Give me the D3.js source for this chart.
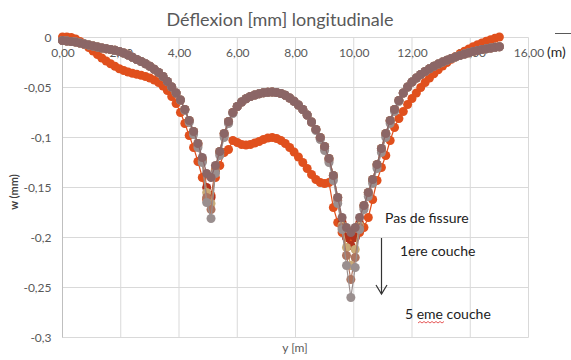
<!DOCTYPE html>
<html>
<head>
<meta charset="utf-8">
<script src="https://cdn.jsdelivr.net/npm/d3@7"></script>
<style>
  body { margin: 0; background: #fff; }
  svg { display: block; font-family: Lato, "Open Sans", sans-serif; }
</style>
</head>
<body>
<svg id="chart" width="571" height="360"></svg>
<script>
// position along the beam (m)
const xs = [0,0.15,0.3,0.45,0.6,0.75,0.9,1.05,1.2,1.35,1.5,1.65,1.8,1.95,2.1,2.25,2.4,2.55,2.7,2.85,
  3,3.15,3.3,3.45,3.6,3.75,3.9,4.05,4.2,4.35,4.5,4.65,4.8,4.95,5.1,5.25,5.4,5.55,5.7,5.85,
  6,6.15,6.3,6.45,6.6,6.75,6.9,7.05,7.2,7.35,7.5,7.65,7.8,7.95,8.1,8.25,8.4,8.55,8.7,8.85,
  9,9.15,9.3,9.45,9.6,9.75,9.9,10.05,10.2,10.35,10.5,10.65,10.8,10.95,11.1,11.25,11.4,11.55,11.7,11.85,
  12,12.15,12.3,12.45,12.6,12.75,12.9,13.05,13.2,13.35,13.5,13.65,13.8,13.95,14.1,14.25,14.4,14.55,14.7,14.85,15];

// deflection w (mm)
const pasFissure = [0.0005,0.0005,0,-0.0015,-0.004,-0.007,-0.01,-0.0135,-0.017,-0.0205,
  -0.0235,-0.0262,-0.0288,-0.0312,-0.033,-0.0345,-0.0358,-0.0368,-0.0378,-0.039,
  -0.0405,-0.0425,-0.045,-0.0485,-0.053,-0.059,-0.066,-0.075,-0.086,-0.098,
  -0.11,-0.124,-0.14,-0.162,-0.158,-0.14,-0.128,-0.115,-0.112,-0.103,
  -0.105,-0.107,-0.1075,-0.107,-0.1055,-0.104,-0.102,-0.1005,-0.1,-0.101,
  -0.103,-0.106,-0.11,-0.1145,-0.1195,-0.125,-0.131,-0.137,-0.142,-0.145,
  -0.146,-0.145,-0.17,-0.185,-0.195,-0.2,-0.202,-0.2,-0.195,-0.19,
  -0.18,-0.162,-0.143,-0.13,-0.118,-0.103,-0.09,-0.081,-0.074,-0.067,
  -0.061,-0.0555,-0.05,-0.045,-0.0405,-0.0362,-0.0322,-0.0285,-0.025,-0.0218,
  -0.019,-0.0163,-0.0138,-0.0115,-0.0093,-0.0073,-0.0055,-0.0038,-0.0022,-0.0008,0.0005];

const couche1 = [-0.003,-0.0035,-0.004,-0.0045,-0.0055,-0.0065,-0.0075,-0.0085,-0.0095,-0.0105,
  -0.0112,-0.012,-0.0128,-0.014,-0.0155,-0.0175,-0.0198,-0.022,-0.024,-0.0262,
  -0.0288,-0.0318,-0.035,-0.039,-0.044,-0.0495,-0.0555,-0.0625,-0.072,-0.083,
  -0.094,-0.106,-0.12,-0.136,-0.14,-0.128,-0.114,-0.096,-0.084,-0.075,
  -0.069,-0.0645,-0.0612,-0.059,-0.0575,-0.0562,-0.0553,-0.0548,-0.0546,-0.055,
  -0.056,-0.0578,-0.0605,-0.0638,-0.0675,-0.072,-0.0775,-0.0845,-0.092,-0.1,
  -0.109,-0.121,-0.138,-0.16,-0.18,-0.19,-0.195,-0.19,-0.18,-0.168,
  -0.155,-0.142,-0.127,-0.111,-0.096,-0.083,-0.072,-0.063,-0.0555,-0.0495,
  -0.0445,-0.0405,-0.037,-0.034,-0.0312,-0.0288,-0.0266,-0.0246,-0.0228,-0.021,
  -0.0194,-0.0179,-0.0165,-0.0152,-0.014,-0.013,-0.012,-0.0112,-0.0105,-0.0098,-0.0093];

const couche2 = [-0.003,-0.0035,-0.004,-0.0045,-0.0055,-0.0065,-0.0075,-0.0085,-0.0095,-0.0105,
  -0.0112,-0.012,-0.0128,-0.014,-0.0155,-0.0175,-0.0198,-0.022,-0.024,-0.0262,
  -0.0288,-0.0318,-0.035,-0.039,-0.044,-0.0495,-0.0555,-0.0625,-0.072,-0.083,
  -0.094,-0.106,-0.122,-0.15,-0.16,-0.132,-0.114,-0.096,-0.084,-0.075,
  -0.069,-0.0645,-0.0612,-0.059,-0.0575,-0.0562,-0.0553,-0.0548,-0.0546,-0.055,
  -0.056,-0.0578,-0.0605,-0.0638,-0.0675,-0.072,-0.0775,-0.0845,-0.092,-0.1,
  -0.109,-0.121,-0.138,-0.16,-0.185,-0.2,-0.208,-0.2,-0.186,-0.168,
  -0.155,-0.142,-0.127,-0.111,-0.096,-0.083,-0.072,-0.063,-0.0555,-0.0495,
  -0.0445,-0.0405,-0.037,-0.034,-0.0312,-0.0288,-0.0266,-0.0246,-0.0228,-0.021,
  -0.0194,-0.0179,-0.0165,-0.0152,-0.014,-0.013,-0.012,-0.0112,-0.0105,-0.0098,-0.0093];

const couche3 = [-0.003,-0.0035,-0.004,-0.0045,-0.0055,-0.0065,-0.0075,-0.0085,-0.0095,-0.0105,
  -0.0112,-0.012,-0.0128,-0.014,-0.0155,-0.0175,-0.0198,-0.022,-0.024,-0.0262,
  -0.0288,-0.0318,-0.035,-0.039,-0.044,-0.0495,-0.0555,-0.0625,-0.072,-0.083,
  -0.094,-0.106,-0.123,-0.155,-0.166,-0.133,-0.114,-0.096,-0.084,-0.075,
  -0.069,-0.0645,-0.0612,-0.059,-0.0575,-0.0562,-0.0553,-0.0548,-0.0546,-0.055,
  -0.056,-0.0578,-0.0605,-0.0638,-0.0675,-0.072,-0.0775,-0.0845,-0.092,-0.1,
  -0.109,-0.121,-0.138,-0.16,-0.188,-0.21,-0.228,-0.212,-0.188,-0.168,
  -0.155,-0.142,-0.127,-0.111,-0.096,-0.083,-0.072,-0.063,-0.0555,-0.0495,
  -0.0445,-0.0405,-0.037,-0.034,-0.0312,-0.0288,-0.0266,-0.0246,-0.0228,-0.021,
  -0.0194,-0.0179,-0.0165,-0.0152,-0.014,-0.013,-0.012,-0.0112,-0.0105,-0.0098,-0.0093];

const couche4 = [-0.003,-0.0035,-0.004,-0.0045,-0.0055,-0.0065,-0.0075,-0.0085,-0.0095,-0.0105,
  -0.0112,-0.012,-0.0128,-0.014,-0.0155,-0.0175,-0.0198,-0.022,-0.024,-0.0262,
  -0.0288,-0.0318,-0.035,-0.039,-0.044,-0.0495,-0.0555,-0.0625,-0.072,-0.084,
  -0.095,-0.108,-0.124,-0.16,-0.172,-0.134,-0.116,-0.098,-0.085,-0.075,
  -0.069,-0.0645,-0.0612,-0.059,-0.0575,-0.0562,-0.0553,-0.0548,-0.0546,-0.055,
  -0.056,-0.0578,-0.0605,-0.0638,-0.0675,-0.072,-0.0775,-0.0845,-0.092,-0.101,
  -0.111,-0.123,-0.14,-0.163,-0.19,-0.218,-0.242,-0.22,-0.19,-0.17,
  -0.157,-0.144,-0.129,-0.113,-0.098,-0.084,-0.072,-0.063,-0.0555,-0.0495,
  -0.0445,-0.0405,-0.037,-0.034,-0.0312,-0.0288,-0.0266,-0.0246,-0.0228,-0.021,
  -0.0194,-0.0179,-0.0165,-0.0152,-0.014,-0.013,-0.012,-0.0112,-0.0105,-0.0098,-0.0093];

const couche5 = [-0.003,-0.0035,-0.004,-0.0045,-0.0055,-0.0065,-0.0075,-0.0085,-0.0095,-0.0105,
  -0.0112,-0.012,-0.0128,-0.014,-0.0155,-0.0175,-0.0198,-0.022,-0.024,-0.0262,
  -0.0288,-0.0318,-0.035,-0.039,-0.044,-0.0495,-0.0555,-0.0625,-0.073,-0.085,
  -0.097,-0.11,-0.125,-0.165,-0.181,-0.136,-0.118,-0.1,-0.086,-0.076,
  -0.069,-0.0645,-0.0612,-0.059,-0.0575,-0.0562,-0.0553,-0.0548,-0.0546,-0.055,
  -0.056,-0.0578,-0.0605,-0.0638,-0.0675,-0.072,-0.0775,-0.0845,-0.093,-0.102,
  -0.113,-0.125,-0.143,-0.166,-0.192,-0.228,-0.26,-0.23,-0.192,-0.172,
  -0.159,-0.146,-0.131,-0.115,-0.1,-0.086,-0.074,-0.064,-0.0555,-0.0495,
  -0.0445,-0.0405,-0.037,-0.034,-0.0312,-0.0288,-0.0266,-0.0246,-0.0228,-0.021,
  -0.0194,-0.0179,-0.0165,-0.0152,-0.014,-0.013,-0.012,-0.0112,-0.0105,-0.0098,-0.0093];

const xTicks = [0, 2, 4, 6, 8, 10, 12, 14, 16];
const yTicks = [0, -0.05, -0.1, -0.15, -0.2, -0.25, -0.3];

// drawing order: first is at the back
const series = [
  {values: pasFissure, color: '#e0501d'},
  {values: couche2, color: '#b3321c'},
  {values: couche3, color: '#c9aa76'},
  {values: couche4, color: '#ad7560'},
  {values: couche5, color: '#9a8f8f'},
  {values: couche1, color: '#8b6666'}
];

const fr = d3.formatLocale({decimal: ',', thousands: ' ', grouping: [3], currency: ['', ' €'], minus: '-'});

const svg = d3.select('#chart');
const x = d3.scaleLinear().domain([0, 16]).range([62.5, 528.5]);
const y = d3.scaleLinear().domain([0, -0.3]).range([37.5, 337.5]);

// grid
svg.append('g').selectAll('line').data(xTicks).join('line')
  .attr('x1', d => x(d)).attr('x2', d => x(d))
  .attr('y1', y(0)).attr('y2', y(-0.3))
  .attr('stroke', '#d9d9d9');
svg.append('g').selectAll('line').data(yTicks).join('line')
  .attr('x1', x(0)).attr('x2', x(16))
  .attr('y1', d => y(d)).attr('y2', d => y(d))
  .attr('stroke', '#d9d9d9');
svg.append('line')
  .attr('x1', x(0)).attr('x2', x(0)).attr('y1', y(0)).attr('y2', y(-0.3))
  .attr('stroke', '#bfbfbf');

// axes labels
const xAxis = svg.append('g')
  .attr('transform', `translate(0,${y(0)})`)
  .call(d3.axisBottom(x).tickValues(xTicks).tickSize(0).tickPadding(11).tickFormat(fr.format('.2f')));
const yAxis = svg.append('g')
  .attr('transform', `translate(${x(0)},0)`)
  .call(d3.axisLeft(y).tickValues(yTicks).tickSize(0).tickPadding(11).tickFormat(fr.format('~g')));
[xAxis, yAxis].forEach(g => {
  g.select('.domain').remove();
  g.selectAll('text').attr('fill', '#595959').style('font-size', '12px').style('font-family', 'Lato, sans-serif');
});

// curves
const line = d3.line().x((d, i) => x(xs[i])).y(d => y(d));
series.forEach(s => {
  const g = svg.append('g');
  g.append('path').datum(s.values)
    .attr('d', line).attr('fill', 'none')
    .attr('stroke', s.color).attr('stroke-width', 1.2);
  g.selectAll('circle').data(s.values).join('circle')
    .attr('cx', (d, i) => x(xs[i])).attr('cy', d => y(d))
    .attr('r', 4.5).attr('fill', s.color);
});

// titles
svg.append('text').attr('x', 280).attr('y', 26).attr('text-anchor', 'middle')
  .attr('fill', '#595959').style('font-size', '18px').text('Déflexion [mm] longitudinale');
svg.append('text').attr('x', 547).attr('y', 57)
  .attr('fill', '#262626').style('font-size', '14px').text('(m)');
svg.append('line').attr('x1', 555).attr('x2', 571).attr('y1', 33.5).attr('y2', 33.5)
  .attr('stroke', '#595959');
svg.append('text').attr('transform', 'translate(18,192) rotate(-90)').attr('text-anchor', 'middle')
  .attr('fill', '#404040').style('font-size', '11px').style('font-weight', 'bold').text('w (mm)');
svg.append('text').attr('x', 295).attr('y', 352).attr('text-anchor', 'middle')
  .attr('fill', '#595959').style('font-size', '12px').text('y [m]');

// annotations
svg.append('text').attr('x', 385).attr('y', 223)
  .attr('fill', '#222').style('font-size', '14px').text('Pas de fissure');
svg.append('text').attr('x', 400).attr('y', 256)
  .attr('fill', '#222').style('font-size', '14px').text('1ere couche');
svg.append('text').attr('x', 405).attr('y', 319)
  .attr('fill', '#222').style('font-size', '14px').text('5 eme couche');
svg.append('path').attr('d', 'M418,323 l2,-1.5 l2,1.5 l2,-1.5 l2,1.5 l2,-1.5 l2,1.5 l2,-1.5 l2,1.5 l2,-1.5 l2,1.5 l2,-1.5 l2,1.5 l2,-1.5')
  .attr('fill', 'none').attr('stroke', '#e03030').attr('stroke-width', 0.8);
svg.append('line').attr('x1', 381.5).attr('x2', 381.5).attr('y1', 238).attr('y2', 294)
  .attr('stroke', '#333').attr('stroke-width', 1.2);
svg.append('path').attr('d', 'M376,285 L381.5,294 L387,285')
  .attr('fill', 'none').attr('stroke', '#333').attr('stroke-width', 1.2);
</script>
</body>
</html>
